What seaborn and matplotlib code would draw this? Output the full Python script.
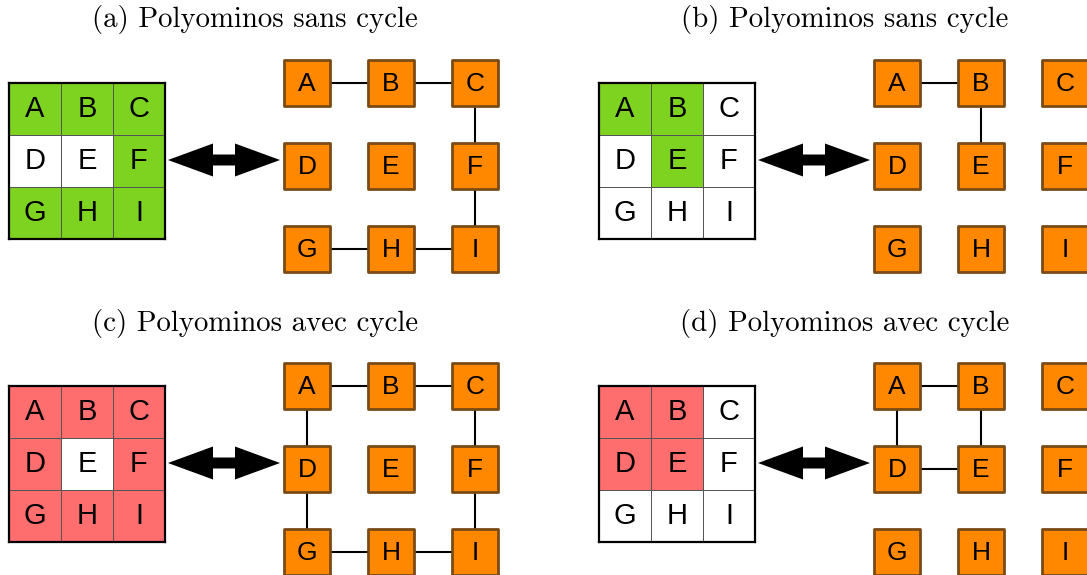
import numpy as np
import seaborn as sns
import pandas as pd
import matplotlib.pyplot as plt
from matplotlib.colors import ListedColormap

# Cell letters, 3x3 grid read row by row
letters = ['A', 'B', 'C', 'D', 'E', 'F', 'G', 'H', 'I']

# Panel titles
titles = ['(a) Polyominos sans cycle', '(b) Polyominos sans cycle',
          '(c) Polyominos avec cycle', '(d) Polyominos avec cycle']

# Which cells are filled in each polyomino (1 = filled)
filled_a = [1, 1, 1, 0, 0, 1, 1, 1, 1]
filled_b = [1, 1, 0, 0, 1, 0, 0, 0, 0]
filled_c = [1, 1, 1, 1, 0, 1, 1, 1, 1]
filled_d = [1, 1, 0, 1, 1, 0, 0, 0, 0]

# Graph edges between adjacent filled cells
edges_a = [('A', 'B'), ('B', 'C'), ('C', 'F'), ('F', 'I'), ('G', 'H'), ('H', 'I')]
edges_b = [('A', 'B'), ('B', 'E')]
edges_c = [('A', 'B'), ('B', 'C'), ('A', 'D'), ('C', 'F'), ('D', 'G'), ('F', 'I'),
           ('G', 'H'), ('H', 'I')]
edges_d = [('A', 'B'), ('A', 'D'), ('B', 'E'), ('D', 'E')]

green = '#7ED321'
red = '#FF6E6E'
orange = '#FF8800'
brown = '#7A4B17'

W, H = 1087, 575
fig = plt.figure(figsize=(W / 100, H / 100), dpi=100)
ax = fig.add_axes([0, 0, 1, 1])
ax.set_xlim(0, W)
ax.set_ylim(H, 0)
ax.axis('off')

panels = [
    (0, 0, filled_a, edges_a, green, titles[0]),
    (590, 0, filled_b, edges_b, green, titles[1]),
    (0, 303, filled_c, edges_c, red, titles[2]),
    (590, 303, filled_d, edges_d, red, titles[3]),
]

# layout in pixels, relative to the panel origin
grid_left, grid_top, grid_size = 9, 83, 156
node_x0, node_y0, node_dx, node_dy = 307, 83, 84, 83
arrow_y, arrow_l, arrow_r = 160, 168, 280
head_len, head_half, shaft_half = 45, 16.5, 5.5

for ox, oy, filled, edges, color, title in panels:
    ax.text(ox + 255, oy + 20, title, family='cmr10', fontsize=20.8,
            ha='center', va='center')

    # polyomino as a heatmap
    hax = fig.add_axes([(ox + grid_left) / W, 1 - (oy + grid_top + grid_size) / H,
                        grid_size / W, grid_size / H])
    mat = np.array(filled).reshape(3, 3)
    lab = np.array(letters).reshape(3, 3)
    sns.heatmap(mat, ax=hax, cmap=ListedColormap(['white', color]), vmin=0, vmax=1,
                annot=lab, fmt='', cbar=False, linewidths=0.7, linecolor='#555555',
                xticklabels=False, yticklabels=False,
                annot_kws={'fontsize': 21, 'family': 'Liberation Sans', 'color': 'black'})
    for sp in hax.spines.values():
        sp.set_visible(True)
        sp.set_color('black')
        sp.set_linewidth(1.6)

    # double arrow
    ay = oy + arrow_y
    l, r = ox + arrow_l, ox + arrow_r
    px = [l, l + head_len, l + head_len, r - head_len, r - head_len, r,
          r - head_len, r - head_len, l + head_len, l + head_len]
    py = [ay, ay - head_half, ay - shaft_half, ay - shaft_half, ay - head_half, ay,
          ay + head_half, ay + shaft_half, ay + shaft_half, ay + head_half]
    ax.fill(px, py, color='black', lw=0)

    # graph nodes
    nodes = pd.DataFrame({
        'name': letters,
        'x': [ox + node_x0 + node_dx * (i % 3) for i in range(9)],
        'y': [oy + node_y0 + node_dy * (i // 3) for i in range(9)],
    })
    pos = nodes.set_index('name')
    for a, b in edges:
        ax.plot([pos.loc[a, 'x'], pos.loc[b, 'x']], [pos.loc[a, 'y'], pos.loc[b, 'y']],
                color='black', lw=1.5, zorder=1)
    sns.scatterplot(data=nodes, x='x', y='y', ax=ax, marker='s', s=1070,
                    color=orange, edgecolor=brown, linewidth=2.0, zorder=2, legend=False)
    for _, row in nodes.iterrows():
        ax.text(row['x'], row['y'] + 1, row['name'], family='Liberation Sans', fontsize=19,
                ha='center', va='center', zorder=3)

ax.set_xlabel('')
ax.set_ylabel('')
fig.savefig('out.png', dpi=100)
